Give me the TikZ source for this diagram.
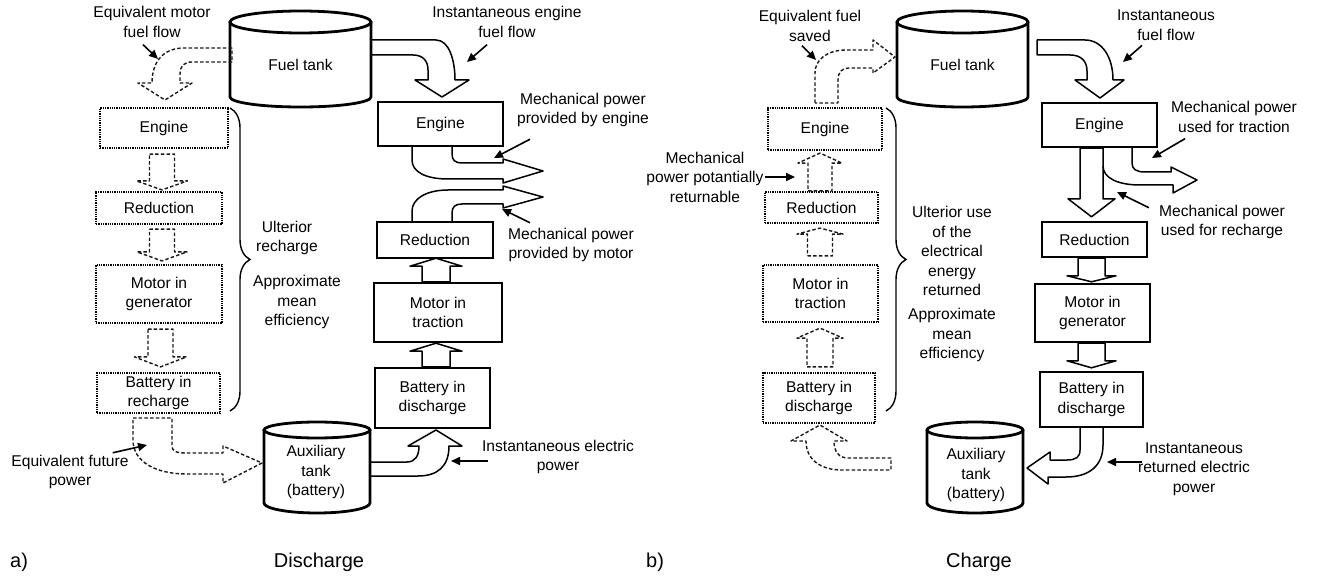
\documentclass[tikz,border=0pt]{standalone}
\usepackage{fontspec}
\setmainfont{Liberation Sans}
\usetikzlibrary{arrows.meta,calc,decorations.pathreplacing}
\newcommand\cyl[7]{%
 \draw[tank] (#1,#3) -- (#1,#4) arc[start angle=180,end angle=360,x radius=#5,y radius=#7] -- (#2,#3);
 \draw[tank] ({(#1+#2)/2},#3) ellipse[x radius=#5,y radius=#6];}
\newcommand\bx[7]{\node[#1,minimum width={#4-#2},minimum height={#5-#3}] (#6) at ({(#2+#4)/2},{(#3+#5)/2}) {#7};}
\newcommand\vblk[6]{\draw[#1] let \p1=#2, \p2=#3 in ({\x2-#4},\y1) -- ({\x2+#4},\y1) -- ({\x2+#4},{\y2+#6}) -- ({\x2+#5},{\y2+#6}) -- (\x2,\y2) -- ({\x2-#5},{\y2+#6}) -- ({\x2-#4},{\y2+#6}) -- cycle;}
\begin{document}
\begin{tikzpicture}[x=1pt,y=-1pt,font=\fontsize{15.6}{19.5}\selectfont,
 sbox/.style={draw,line width=2.4pt,inner sep=0pt,align=center},
 dbox/.style={draw=black,line width=2.2pt,dash pattern=on 1.3pt off 1pt,inner sep=0pt,align=center},
 tank/.style={line width=2.8pt},
 sarr/.style={draw,line width=1.5pt,line join=round},
 darr/.style={draw=black!90,line width=1.4pt,dash pattern=on 3.5pt off 2.2pt,line join=round},
 ptr/.style={line width=1.6pt,-{Triangle[length=9pt,width=8pt]}},
 lbl/.style={align=center,inner sep=1pt},
 captxt/.style={font=\fontsize{20}{24}\selectfont,inner sep=0pt},
 brc/.style={line width=1.4pt,decorate,decoration={brace,amplitude=20pt}}]
\useasboundingbox (0,0) rectangle (1325,580);

% ================= Panel a =================
\cyl{230}{371}{22}{97}{70.5pt}{11pt}{10pt}
\node (ftA) at (300.5,65) {Fuel tank};
\bx{dbox}{100}{108}{228}{148}{lEngA}{Engine}
\bx{dbox}{96}{192}{222}{224}{lRedA}{Reduction}
\bx{dbox}{96}{265}{222}{323}{lMotA}{Motor in\\generator}
\bx{dbox}{97}{373}{220}{413}{lBatA}{Battery in\\recharge}
\bx{sbox}{378}{102}{503}{146}{rEngA}{Engine}
\bx{sbox}{377}{222}{493}{258}{rRedA}{Reduction}
\bx{sbox}{374}{283}{502}{342}{rMotA}{Motor in\\traction}
\bx{sbox}{375}{368}{490}{428}{rBatA}{Battery in\\discharge}
\cyl{264}{370}{430}{503}{53pt}{8pt}{10pt}
\node[lbl] (auxA) at (316,472) {Auxiliary\\tank\\(battery)};

\vblk{darr}{($(lEngA.south)+(0,5)$)}{($(lRedA.north)+(3,-1)$)}{12.5pt}{25.5pt}{9pt}
\vblk{darr}{($(lRedA.south)+(0,4)$)}{($(lMotA.north)+(3,-3)$)}{12.5pt}{25pt}{9pt}
\vblk{darr}{($(lMotA.south)+(0,5)$)}{($(lBatA.north)+(2,-5)$)}{12.5pt}{26pt}{10pt}
\vblk{sarr}{(rMotA.north)}{($(rRedA.south)+(1,-1)$)}{14pt}{26pt}{-8pt}
\vblk{sarr}{(rBatA.north)}{($(rMotA.south)+(-2,0)$)}{14pt}{26pt}{-8pt}

\draw[darr] (232,48) -- (184,48) .. controls (163,48) and (152,62) .. (152,83) -- (138,83) -- (165,100) -- (192,83) -- (180,83) -- (180,74) .. controls (180,66) and (184,62) .. (192,62) -- (232,62) -- cycle;
\draw[sarr] (371,40) -- (436,40) .. controls (449,40) and (455,60) .. (455,80) -- (469,80) -- (442,97) -- (415,80) -- (428,80) -- (428,70) .. controls (428,61) and (423,55) .. (413,55) -- (371,55);
\draw[sarr] (412,146) -- (412,160) .. controls (412,172) and (426,179) .. (448,179) -- (503,179) -- (503,183) -- (543,171) -- (503,159) -- (503,163) -- (462,163) .. controls (455,163) and (452,160) .. (452,154) -- (452,146);
\draw[sarr] (412,222) -- (412,211) .. controls (412,199) and (426,190) .. (448,190) -- (503,190) -- (503,186) -- (543,197) -- (503,208) -- (503,204) -- (462,204) .. controls (455,204) and (452,207) .. (452,213) -- (452,222);
\draw[sarr] (370,462) -- (407,462) .. controls (415,462) and (419,456) .. (419,446) -- (408,446) -- (436,430) -- (462,446) -- (449,446) .. controls (449,466) and (438,476) .. (418,476) -- (370,476);
\draw[darr] (133,418) -- (172,418) -- (172,446) .. controls (172,451) and (176,453) .. (186,453) -- (223,453) -- (223,446) -- (262,463) -- (223,483) -- (223,474) -- (187,474) .. controls (156,474) and (133,462) .. (133,440) -- cycle;

\draw[brc] (230,108) -- (230,411);
\node[lbl] (tUltA) at (287,238) {Ulterior\\recharge};
\node[lbl] (tAppA) at (297,302) {Approximate\\mean\\efficiency};

\node[lbl] (tEqMot) at (152,22) {Equivalent motor\\fuel flow};
\coordinate (pEqMot) at (158,59);
\draw[ptr] ($(tEqMot.south)+(-9,6)$) -- (pEqMot);
\node[lbl] (tInstEng) at (507,22) {Instantaneous engine\\fuel flow};
\coordinate (pInstEng) at (467,62);
\draw[ptr] ($(tInstEng.south)+(-20,6)$) -- (pInstEng);
\node[lbl] (tMechEng) at (583,110) {Mechanical power\\provided by engine};
\coordinate (pMechEng) at (494,158);
\draw[ptr] ($(tMechEng.south)+(-53,11)$) -- (pMechEng);
\node[lbl] (tMechMot) at (571,245) {Mechanical power\\provided by motor};
\coordinate (pMechMot) at (502,209);
\draw[ptr] ($(tMechMot.north)+(-41,-4)$) -- (pMechMot);
\node[lbl] (tEqFut) at (70,472) {Equivalent future\\power};
\coordinate (pEqFut) at (147,445);
\draw[ptr] ($(tEqFut.north east)+(-17,-1)$) -- (pEqFut);
\node[lbl] (tInstElec) at (558,457) {Instantaneous electric\\power};
\coordinate (pInstElec) at (451,461);
\draw[ptr] ($(tInstElec.west)+(7,4)$) -- (pInstElec);

\node[captxt,anchor=west] (capA) at (10,562) {a)};
\node[captxt] (capAt) at (319,562) {Discharge};

% ================= Panel b =================
\cyl{897}{1028}{22}{97}{65.5pt}{11pt}{10pt}
\node (ftB) at (962.5,65) {Fuel tank};
\bx{dbox}{768}{108}{882}{150}{lEngB}{Engine}
\bx{dbox}{765}{192}{878}{223}{lRedB}{Reduction}
\bx{dbox}{763}{265}{878}{322}{lMotB}{Motor in\\traction}
\bx{dbox}{763}{373}{875}{423}{lBatB}{Battery in\\discharge}
\bx{sbox}{1042}{103}{1157}{147}{rEngB}{Engine}
\bx{sbox}{1042}{222}{1147}{257}{rRedB}{Reduction}
\bx{sbox}{1035}{284}{1150}{342}{rMotB}{Motor in\\generator}
\bx{sbox}{1040}{372}{1143}{427}{rBatB}{Battery in\\discharge}
\cyl{927}{1023}{430}{503}{48pt}{8pt}{10pt}
\node[lbl] (auxB) at (976,475) {Auxiliary\\tank\\(battery)};

\vblk{darr}{(lRedB.north)}{($(lEngB.south)+(-5,2)$)}{12pt}{22pt}{-10pt}
\vblk{darr}{($(lMotB.north)+(0,-8)$)}{($(lRedB.south)+(-1.5,4)$)}{12.5pt}{23pt}{-6pt}
\vblk{darr}{($(lBatB.north)+(0,-5)$)}{($(lMotB.south)+(-0.5,5)$)}{13pt}{23pt}{-10pt}
\vblk{sarr}{(rEngB.south)}{($(rRedB.north)+(-3,-4)$)}{11.5pt}{23.5pt}{18pt}
\vblk{sarr}{(rRedB.south)}{($(rMotB.north)+(-1,-1)$)}{13.5pt}{24.5pt}{6pt}
\vblk{sarr}{(rMotB.south)}{($(rBatB.north)+(0,-3)$)}{13.5pt}{24.5pt}{7pt}

\draw[darr] (815,103) -- (815,73) .. controls (815,59) and (828,50) .. (846,50) -- (873,50) -- (873,40) -- (895,57) -- (873,73) -- (873,68) -- (849,68) .. controls (842,68) and (838,72) .. (838,80) -- (838,103) -- cycle;
\draw[sarr] (1037,40) -- (1085,40) .. controls (1102,40) and (1113,57) .. (1113,80) -- (1124,80) -- (1100,98) -- (1075,80) -- (1087,80) -- (1087,71) .. controls (1087,61) and (1081,55) .. (1070,55) -- (1037,55) -- cycle;
\draw[sarr] (1132,147) -- (1132,163) .. controls (1132,169) and (1136,172) .. (1145,172) -- (1171,172) -- (1171,167) -- (1197,180) -- (1173,193) -- (1173,185) -- (1140,185) .. controls (1118,185) and (1103,178) .. (1103,166);
\draw[sarr] (1080,427) -- (1080,450) .. controls (1080,457) and (1076,460) .. (1067,460) -- (1050,460) -- (1050,452) -- (1027,468) -- (1048,484) -- (1048,477) -- (1066,477) .. controls (1090,477) and (1103,465) .. (1103,445) -- (1103,427);
\draw[darr] (891,458) -- (848,458) .. controls (839,458) and (834,452) .. (834,441) -- (847,441) -- (820,425) -- (791,441) -- (806,441) .. controls (806,460) and (821,470) .. (842,470) -- (891,470) -- cycle;

\draw[brc] (886,108) -- (886,411);
\node[lbl] (tUltB) at (952,251) {Ulterior use\\of the\\electrical\\energy\\returned};
\node[lbl] (tAppB) at (952,335) {Approximate\\mean\\efficiency};

\node[lbl] (tEqSav) at (810,26) {Equivalent fuel\\saved};
\coordinate (pEqSav) at (816,60);
\draw[ptr] ($(tEqSav.south)+(-8,3)$) -- (pEqSav);
\node[lbl] (tInstFuel) at (1166,25) {Instantaneous\\fuel flow};
\coordinate (pInstFuel) at (1123,62);
\draw[ptr] ($(tInstFuel.south)+(-24,4)$) -- (pInstFuel);
\node[lbl] (tMechRet) at (705,177) {Mechanical\\power potantially\\returnable};
\coordinate (pMechRet) at (795,177);
\draw[ptr] (tMechRet.east) -- (pMechRet);
\node[lbl] (tMechTrac) at (1234,117) {Mechanical power\\used for traction};
\coordinate (pMechTrac) at (1152,158);
\draw[ptr] ($(tMechTrac.south)+(-49,5)$) -- (pMechTrac);
\node[lbl] (tMechRech) at (1222,222) {Mechanical power\\used for recharge};
\coordinate (pMechRech) at (1117,192);
\draw[ptr] ($(tMechRech.north west)+(-9,4)$) -- (pMechRech);
\node[lbl] (tInstRet) at (1194,469) {Instantaneous\\returned electric\\power};
\coordinate (pInstRet) at (1107,462);
\draw[ptr] ($(tInstRet.west)+(5,-7)$) -- (pInstRet);

\node[captxt,anchor=west] (capB) at (646,562) {b)};
\node[captxt] (capBt) at (979,562) {Charge};
\end{tikzpicture}
\end{document}
